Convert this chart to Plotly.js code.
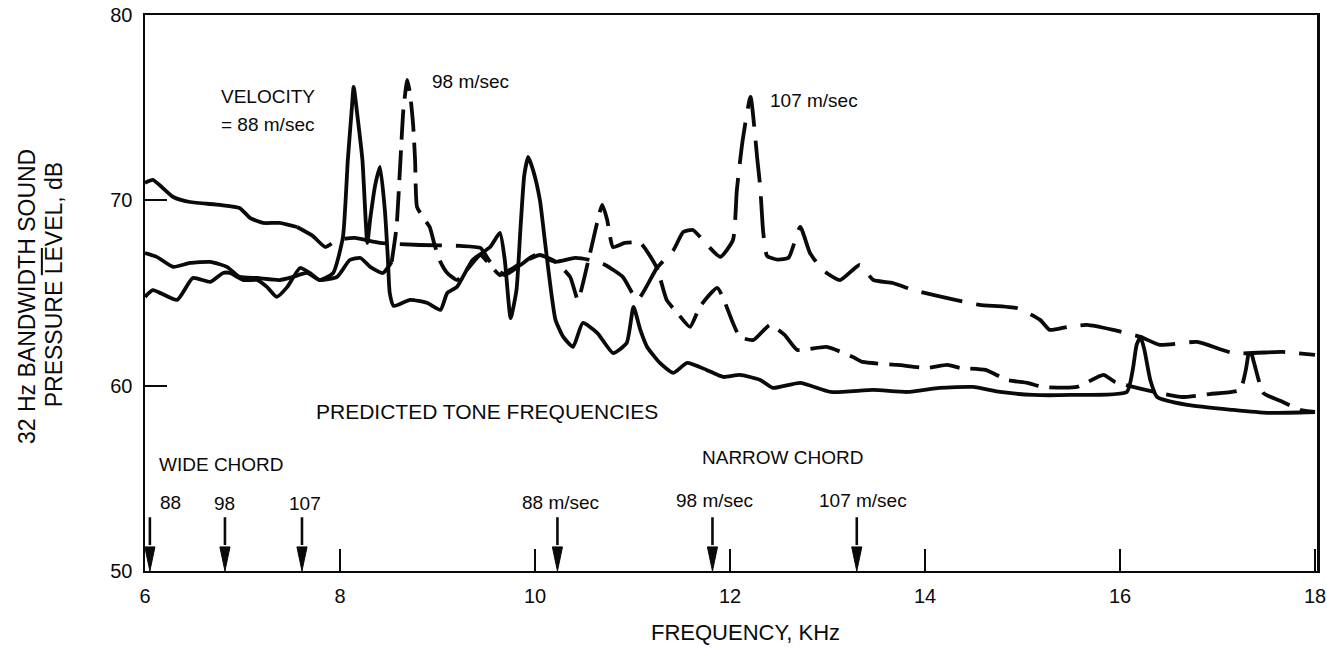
<!DOCTYPE html>
<html>
<head>
<meta charset="utf-8">
<script src="https://cdn.plot.ly/plotly-3.0.1.min.js"></script>
<style>html,body{margin:0;padding:0;background:#fff;}#chart{width:1327px;height:648px;}</style>
</head>
<body>
<div id="chart"></div>
<script>
// Frequency (kHz) and 32 Hz bandwidth SPL (dB)
const freq88 = [6.00, 6.08, 6.33, 6.49, 6.67, 6.80, 6.87, 7.01, 7.15, 7.25, 7.35, 7.46, 7.59, 7.69, 7.79, 7.93, 8.03, 8.08, 8.12, 8.14, 8.18, 8.23, 8.28, 8.31, 8.36, 8.41, 8.46, 8.49, 8.51, 8.55, 8.72, 8.89, 9.03, 9.10, 9.20, 9.36, 9.54, 9.64, 9.69, 9.75, 9.81, 9.85, 9.89, 9.93, 9.98, 10.05, 10.10, 10.15, 10.21, 10.29, 10.39, 10.49, 10.64, 10.80, 10.94, 11.01, 11.08, 11.15, 11.28, 11.42, 11.56, 11.76, 11.93, 12.10, 12.31, 12.44, 12.72, 13.03, 13.47, 13.82, 14.15, 14.49, 14.77, 15.11, 15.49, 16.07, 16.13, 16.17, 16.21, 16.25, 16.31, 16.38, 16.69, 17.16, 17.51, 18.00];
const spl88 = [64.79, 65.16, 64.63, 65.81, 65.60, 66.08, 66.08, 65.70, 65.70, 65.33, 64.79, 65.33, 66.35, 66.08, 65.70, 66.08, 68.02, 72.17, 74.88, 76.12, 74.50, 72.17, 67.70, 69.00, 70.80, 71.80, 69.48, 66.95, 65.00, 64.30, 64.63, 64.47, 64.09, 65.00, 65.33, 66.78, 67.48, 68.24, 66.78, 63.65, 65.16, 68.40, 71.36, 72.34, 71.63, 70.02, 67.86, 65.70, 63.55, 62.63, 62.09, 63.38, 62.84, 61.76, 62.30, 64.25, 63.01, 62.09, 61.23, 60.69, 61.23, 60.85, 60.47, 60.58, 60.31, 59.88, 60.15, 59.66, 59.77, 59.66, 59.88, 59.93, 59.66, 59.50, 59.50, 59.66, 60.85, 62.20, 62.63, 61.93, 60.31, 59.39, 58.96, 58.69, 58.53, 58.58];

const freq98 = [6.00, 6.12, 6.29, 6.46, 6.67, 6.84, 6.97, 7.15, 7.38, 7.52, 7.66, 7.79, 7.97, 8.10, 8.21, 8.31, 8.44, 8.53, 8.58, 8.62, 8.65, 8.69, 8.72, 8.75, 8.77, 8.79, 8.85, 8.92, 8.97, 9.03, 9.10, 9.20, 9.30, 9.44, 9.54, 9.64, 9.74, 9.88, 10.05, 10.21, 10.36, 10.44, 10.56, 10.69, 10.74, 10.80, 10.92, 11.08, 11.25, 11.35, 11.46, 11.59, 11.69, 11.87, 12.03, 12.10, 12.24, 12.41, 12.56, 12.69, 12.99, 13.26, 13.36, 13.72, 14.02, 14.23, 14.36, 14.62, 14.84, 15.05, 15.21, 15.56, 15.83, 15.95, 16.62, 16.92, 17.23, 17.29, 17.33, 17.38, 17.47, 17.67, 17.85, 18.00];
const spl98 = [67.16, 66.95, 66.41, 66.62, 66.68, 66.41, 65.87, 65.81, 65.70, 65.87, 66.08, 65.70, 65.87, 66.78, 66.89, 66.41, 66.08, 66.68, 68.56, 72.17, 74.88, 76.50, 75.69, 74.07, 72.17, 69.64, 69.10, 68.56, 67.59, 66.68, 66.08, 65.70, 66.24, 67.05, 66.51, 65.97, 66.24, 66.68, 67.05, 66.68, 65.87, 64.63, 67.05, 69.75, 68.94, 67.48, 67.70, 67.70, 66.35, 64.63, 63.92, 63.17, 64.25, 65.27, 63.38, 62.63, 62.47, 63.28, 62.74, 61.93, 62.09, 61.55, 61.28, 61.12, 60.96, 61.12, 60.96, 60.85, 60.31, 60.15, 59.93, 59.93, 60.58, 60.20, 59.39, 59.55, 59.77, 60.85, 62.03, 61.12, 59.61, 59.12, 58.69, 58.58];

const freq107 = [6.00, 6.08, 6.29, 6.46, 6.77, 6.97, 7.08, 7.21, 7.38, 7.56, 7.72, 7.85, 7.97, 8.15, 8.41, 8.82, 9.23, 9.44, 9.54, 9.69, 9.85, 10.00, 10.21, 10.41, 10.56, 10.72, 10.90, 11.05, 11.25, 11.42, 11.52, 11.62, 11.72, 11.90, 12.03, 12.07, 12.13, 12.21, 12.28, 12.31, 12.34, 12.38, 12.49, 12.60, 12.72, 12.82, 12.95, 13.13, 13.33, 13.47, 13.67, 13.88, 14.31, 14.56, 14.94, 15.18, 15.28, 15.46, 15.66, 15.93, 16.21, 16.41, 16.79, 17.16, 17.67, 18.00];
const spl107 = [70.94, 71.10, 70.18, 69.91, 69.75, 69.59, 69.04, 68.78, 68.78, 68.56, 68.08, 67.48, 67.86, 67.97, 67.70, 67.59, 67.54, 67.43, 66.68, 65.97, 66.51, 67.05, 66.68, 66.89, 66.78, 66.51, 65.87, 64.63, 66.35, 67.32, 68.29, 68.40, 67.86, 66.95, 67.86, 70.56, 73.26, 75.58, 72.20, 70.70, 68.30, 67.00, 66.80, 66.90, 68.56, 67.16, 66.24, 65.70, 66.51, 65.70, 65.54, 65.16, 64.63, 64.36, 64.19, 63.55, 63.01, 63.17, 63.28, 63.01, 62.63, 62.20, 62.36, 61.76, 61.82, 61.66];

// Predicted tone frequencies (kHz): wide chord 88, 98, 107; narrow chord 88, 98, 107 m/sec
const predictedFreqs = [6.05, 6.82, 7.61, 10.23, 11.82, 13.30];
const predictedLabels = ['88', '98', '107', '88 m/sec', '98 m/sec', '107 m/sec'];

const xTickVals = [6, 8, 10, 12, 14, 16, 18];
const yTickVals = [50, 60, 70, 80];

const FONT = '"Liberation Sans", Arial, Helvetica, sans-serif';
const INK = '#0a0a0a';

function seg(xs, ys, a, b, dash) {
  return {
    x: xs.slice(a, b), y: ys.slice(a, b), type: 'scatter', mode: 'lines',
    line: {color: INK, width: 3.8, dash: dash, shape: 'spline', smoothing: 0.5},
    hoverinfo: 'skip', showlegend: false
  };
}

const split98 = freq98.indexOf(8.53);
const split107 = freq107.indexOf(7.56);

const traces = [
  seg(freq88, spl88, 0, freq88.length, 'solid'),
  seg(freq98, spl98, 0, split98 + 1, 'solid'),
  seg(freq98, spl98, split98, freq98.length, '30px,11px'),
  seg(freq107, spl107, 0, split107 + 1, 'solid'),
  seg(freq107, spl107, split107, freq107.length, '42px,14px')
];

// arrow shafts and heads for predicted tones
const shaftTop = 52.9, headBase = 51.3, axisBase = 50.0, halfW = 0.052;
const shaftX = [], shaftY = [], headX = [], headY = [];
predictedFreqs.forEach(f => {
  shaftX.push(f, f, null); shaftY.push(shaftTop, headBase + 0.1, null);
  headX.push(f - halfW, f + halfW, f, f - halfW, null);
  headY.push(headBase, headBase, axisBase, headBase, null);
});
traces.push({x: shaftX, y: shaftY, type: 'scatter', mode: 'lines',
  line: {color: INK, width: 2.6}, hoverinfo: 'skip', showlegend: false, cliponaxis: false});
traces.push({x: headX, y: headY, type: 'scatter', mode: 'lines', fill: 'toself',
  fillcolor: INK, line: {color: INK, width: 1}, hoverinfo: 'skip', showlegend: false, cliponaxis: false});

function txt(text, x, y, xanchor, size) {
  return {text: text, x: x, y: y, xref: 'x', yref: 'y', showarrow: false,
    xanchor: xanchor || 'left', yanchor: 'middle',
    font: {family: FONT, size: size || 19, color: INK}};
}

const labelY = [53.67, 53.62, 53.62, 53.70, 53.78, 53.78];
const labelX = [6.26, 6.82, 7.64, 10.26, 11.84, 13.36];

const annotations = [
  txt('VELOCITY', 6.76, 75.58),
  txt('= 88 m/sec', 6.76, 74.07),
  txt('98 m/sec', 8.92, 76.39),
  txt('107 m/sec', 12.39, 75.36),
  txt('PREDICTED TONE FREQUENCIES', 7.73, 58.63, 'left', 21),
  txt('WIDE CHORD', 6.12, 55.72),
  txt('NARROW CHORD', 11.69, 56.10)
];
predictedLabels.forEach((t, i) => annotations.push(txt(t, labelX[i], labelY[i], 'center')));

annotations.push({text: 'FREQUENCY, KHz', xref: 'paper', yref: 'paper', x: 0.512, y: -0.111,
  xanchor: 'center', yanchor: 'middle', showarrow: false, font: {family: FONT, size: 22, color: INK}});
annotations.push({text: '32 Hz BANDWIDTH SOUND', xref: 'paper', yref: 'paper', x: -0.1007, y: 0.4946,
  xanchor: 'center', yanchor: 'middle', textangle: -90, showarrow: false, font: {family: FONT, size: 23, color: INK}});
annotations.push({text: 'PRESSURE LEVEL, dB', xref: 'paper', yref: 'paper', x: -0.0776, y: 0.514,
  xanchor: 'center', yanchor: 'middle', textangle: -90, showarrow: false, font: {family: FONT, size: 23, color: INK}});

const layout = {
  width: 1327, height: 648,
  margin: {l: 145, r: 10, t: 15, b: 77, pad: 0},
  paper_bgcolor: '#fff', plot_bgcolor: '#fff',
  showlegend: false,
  xaxis: {
    range: [6, 18.02], tickvals: xTickVals, ticktext: xTickVals.map(String),
    ticks: 'inside', ticklen: 22, tickwidth: 2, tickcolor: INK,
    showline: true, linecolor: INK, linewidth: 2, mirror: true,
    showgrid: false, zeroline: false, ticklabelstandoff: 6,
    tickfont: {family: FONT, size: 20, color: INK}
  },
  yaxis: {
    range: [50, 80], tickvals: yTickVals, ticktext: yTickVals.map(String),
    ticks: 'inside', ticklen: 22, tickwidth: 2, tickcolor: INK,
    showline: true, linecolor: INK, linewidth: 2.5, mirror: true,
    showgrid: false, zeroline: false, ticklabelstandoff: 6,
    tickfont: {family: FONT, size: 20, color: INK}
  },
  annotations: annotations,
  shapes: [{type: 'line', xref: 'paper', yref: 'paper', x0: -0.088, x1: -0.088, y0: 0.532, y1: 0.581,
    line: {color: INK, width: 2}}]
};

Plotly.newPlot('chart', traces, layout, {staticPlot: true, displayModeBar: false});
</script>
</body>
</html>
